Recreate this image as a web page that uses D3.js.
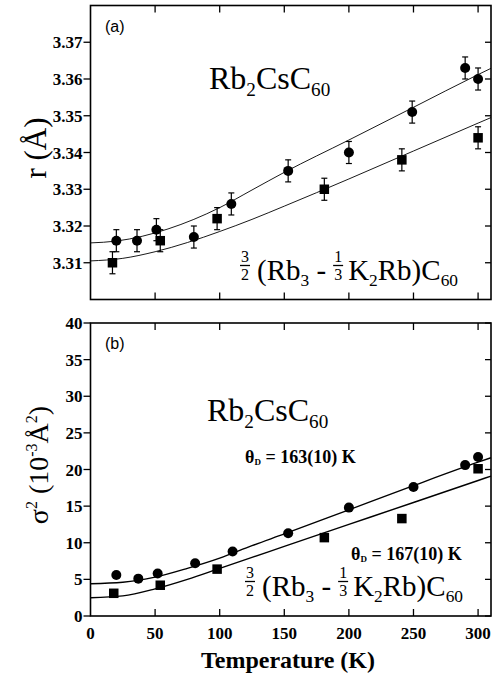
<!DOCTYPE html>
<html>
<head>
<meta charset="utf-8">
<script src="https://cdn.jsdelivr.net/npm/d3@7/dist/d3.min.js"></script>
<style>
  html, body { margin: 0; padding: 0; background: #fff; }
  svg { display: block; }
</style>
</head>
<body>
<svg id="chart" width="500" height="677"></svg>
<script>
// ---- data: panel (a), nearest-neighbour distance r (Å) ----
const tempRbCs = [20, 36, 51, 80, 109, 153, 200, 249, 290, 300];
const rRbCs    = [3.316, 3.316, 3.319, 3.317, 3.326, 3.335, 3.340, 3.351, 3.363, 3.360];
const rErrRbCs = [0.003, 0.003, 0.003, 0.003, 0.003, 0.003, 0.003, 0.003, 0.003, 0.003];
const tempMix  = [17, 54, 98, 181, 241, 300];
const rMix     = [3.310, 3.316, 3.322, 3.330, 3.338, 3.344];
const rErrMix  = [0.003, 0.003, 0.003, 0.003, 0.003, 0.003];

// fitted curves for panel (a)
const fitTempA   = [0, 20, 40, 60, 80, 100, 125, 150, 200, 250, 300, 310];
const fitRRbCs   = [3.3154, 3.3159, 3.3172, 3.3192, 3.3218, 3.3250, 3.3298, 3.3346, 3.3434, 3.3523, 3.3612, 3.3629];
const fitTempA2  = [0, 25, 50, 75, 100, 125, 150, 200, 250, 300, 310];
const fitRMix    = [3.3105, 3.3112, 3.3130, 3.3155, 3.3185, 3.3218, 3.3254, 3.3328, 3.3404, 3.3480, 3.3495];

// ---- data: panel (b), mean-square displacement sigma^2 (10^-3 Å^2) ----
const sigTempRbCs = [20, 37, 52, 81, 110, 153, 200, 250, 290, 300];
const sigRbCs     = [5.6, 5.1, 5.8, 7.2, 8.8, 11.3, 14.8, 17.6, 20.6, 21.7];
const sigTempMix  = [18, 54, 98, 181, 241, 300];
const sigMix      = [3.1, 4.2, 6.4, 10.7, 13.3, 20.1];

// Debye-model fits for panel (b)
const fitTempB    = [0, 25, 50, 75, 100, 125, 150, 200, 250, 300, 310];
const fitSigRbCs  = [4.4, 4.6, 5.3, 6.5, 7.9, 9.6, 11.2, 14.5, 17.8, 21.0, 21.6];
const fitSigMix   = [2.5, 2.75, 3.7, 5.0, 6.5, 8.0, 9.5, 12.5, 15.5, 18.5, 19.1];

// ---- tick labels ----
const xTicks  = [0, 50, 100, 150, 200, 250, 300];
const rTicks  = [3.31, 3.32, 3.33, 3.34, 3.35, 3.36, 3.37];
const sTicks  = [0, 5, 10, 15, 20, 25, 30, 35, 40];

const SERIF = "'Liberation Serif', 'Times New Roman', serif";
const SANS  = "'Liberation Sans', Arial, sans-serif";

const svg = d3.select("#chart");

const left = 90.5, right = 491;
const x = d3.scaleLinear().domain([0, 310]).range([left, right]);

const panelA = { top: 5.5, bottom: 299.5 };
const panelB = { top: 323, bottom: 616 };

const yA = d3.scaleLinear().domain([3.30, 3.38]).range([panelA.bottom, panelA.top]);
const yB = d3.scaleLinear().domain([0, 40]).range([panelB.bottom, panelB.top]);

function frame(p) {
  svg.append("rect")
    .attr("x", left).attr("y", p.top)
    .attr("width", right - left).attr("height", p.bottom - p.top)
    .attr("fill", "none").attr("stroke", "#000").attr("stroke-width", 1.6);
}

function ticks(p, y, yTickVals, fmt, showX) {
  const g = svg.append("g").attr("stroke", "#000").attr("stroke-width", 1.3);
  // x ticks, inside on top and bottom edges
  xTicks.filter(t => t > 0).forEach(t => {
    g.append("line").attr("x1", x(t)).attr("x2", x(t)).attr("y1", p.top).attr("y2", p.top + 7);
    g.append("line").attr("x1", x(t)).attr("x2", x(t)).attr("y1", p.bottom).attr("y2", p.bottom - 7);
  });
  // y ticks, outside on the left, inside on the right
  yTickVals.forEach(t => {
    g.append("line").attr("x1", left - 7).attr("x2", left).attr("y1", y(t)).attr("y2", y(t));
    g.append("line").attr("x1", right).attr("x2", right - 6).attr("y1", y(t)).attr("y2", y(t));
  });
  svg.append("g").selectAll("text").data(yTickVals).join("text")
    .attr("x", left - 8).attr("y", d => y(d) + 6)
    .attr("text-anchor", "end")
    .attr("font-family", SERIF).attr("font-weight", "bold").attr("font-size", 17)
    .text(fmt);
  if (showX) {
    svg.append("g").selectAll("text").data(xTicks).join("text")
      .attr("x", d => x(d)).attr("y", p.bottom + 23)
      .attr("text-anchor", "middle")
      .attr("font-family", SERIF).attr("font-weight", "bold").attr("font-size", 17)
      .text(d => d);
  }
}

function curve(tArr, vArr, y, width) {
  const line = d3.line().x(d => x(d[0])).y(d => y(d[1])).curve(d3.curveMonotoneX);
  svg.append("path")
    .datum(d3.zip(tArr, vArr))
    .attr("d", line)
    .attr("fill", "none").attr("stroke", "#000").attr("stroke-width", width);
}

function circles(tArr, vArr, y, r) {
  svg.append("g").selectAll("circle").data(d3.zip(tArr, vArr)).join("circle")
    .attr("cx", d => x(d[0])).attr("cy", d => y(d[1])).attr("r", r).attr("fill", "#000");
}

function squares(tArr, vArr, y, s) {
  svg.append("g").selectAll("rect").data(d3.zip(tArr, vArr)).join("rect")
    .attr("x", d => x(d[0]) - s / 2).attr("y", d => y(d[1]) - s / 2)
    .attr("width", s).attr("height", s).attr("fill", "#000");
}

function errorBars(tArr, vArr, eArr, y) {
  const g = svg.append("g").attr("stroke", "#000").attr("stroke-width", 1.2);
  tArr.forEach((t, i) => {
    const cx = x(t), y1 = y(vArr[i] - eArr[i]), y2 = y(vArr[i] + eArr[i]);
    g.append("line").attr("x1", cx).attr("x2", cx).attr("y1", y1).attr("y2", y2);
    g.append("line").attr("x1", cx - 3).attr("x2", cx + 3).attr("y1", y1).attr("y2", y1);
    g.append("line").attr("x1", cx - 3).attr("x2", cx + 3).attr("y1", y2).attr("y2", y2);
  });
}

// chemical formula with subscripts: parts = [[text, isSub, subSize], ...]
function chem(xPos, yPos, size, parts, opts = {}) {
  const t = svg.append("text")
    .attr("x", xPos).attr("y", yPos)
    .attr("font-family", SERIF).attr("font-size", size)
    .attr("font-weight", opts.bold ? "bold" : "normal");
  let shifted = false;
  const sub = opts.subShift || size * 0.22;
  parts.forEach(([s, isSub, subSize]) => {
    const ts = t.append("tspan").text(s);
    if (isSub && !shifted) { ts.attr("dy", sub); shifted = true; }
    else if (!isSub && shifted) { ts.attr("dy", -sub); shifted = false; }
    if (isSub) ts.attr("font-size", subSize || size * 0.6);
  });
  return t;
}

// stacked fraction: numerator over denominator with a bar between
function fraction(cx, base, num, den, size) {
  const g = svg.append("g").attr("font-family", SERIF).attr("font-size", size)
    .attr("text-anchor", "middle");
  g.append("text").attr("x", cx).attr("y", base - 18.5).text(num);
  g.append("text").attr("x", cx).attr("y", base).text(den);
  svg.append("line").attr("x1", cx - 5).attr("x2", cx + 5)
    .attr("y1", base - 14.5).attr("y2", base - 14.5)
    .attr("stroke", "#000").attr("stroke-width", 1.3);
}

// 3/2 (Rb3 - 1/3 K2Rb)C60
function mixFormula(x0, base, size) {
  fraction(x0, base, "3", "2", 16);
  const t1 = chem(x0 + 12, base, size, [["(Rb"], ["3", true], ["\u00a0-"]]);
  const w1 = t1.node().getComputedTextLength();
  const fx = x0 + 12 + w1 + 12;
  fraction(fx, base, "1", "3", 16);
  chem(fx + 10, base, size, [["K"], ["2", true], ["Rb)C"], ["60", true]]);
}

// ---- panel (a) ----
frame(panelA);
ticks(panelA, yA, rTicks, d => d.toFixed(2), false);
curve(fitTempA, fitRRbCs, yA, 0.9);
curve(fitTempA2, fitRMix, yA, 0.9);
errorBars(tempRbCs, rRbCs, rErrRbCs, yA);
errorBars(tempMix, rMix, rErrMix, yA);
circles(tempRbCs, rRbCs, yA, 5);
squares(tempMix, rMix, yA, 9.5);

svg.append("text").attr("x", 105).attr("y", 32)
  .attr("font-family", SANS).attr("font-size", 16).text("(a)");
chem(209, 89, 32, [["Rb"], ["2", true], ["CsC"], ["60", true]]);
mixFormula(245, 280, 29);

// ---- panel (b) ----
frame(panelB);
ticks(panelB, yB, sTicks, d => d, true);
curve(fitTempB, fitSigRbCs, yB, 1.4);
curve(fitTempB, fitSigMix, yB, 1.4);
circles(sigTempRbCs, sigRbCs, yB, 5);
squares(sigTempMix, sigMix, yB, 9.5);

svg.append("text").attr("x", 105).attr("y", 349)
  .attr("font-family", SANS).attr("font-size", 16).text("(b)");
chem(207, 421, 32, [["Rb"], ["2", true], ["CsC"], ["60", true]]);
chem(245, 463, 18, [["θ"], ["D", true, 9], [" = 163(10) K"]], { bold: true, subShift: 2 });
chem(351, 560, 18, [["θ"], ["D", true, 9], [" = 167(10) K"]], { bold: true, subShift: 2 });
mixFormula(250, 596, 29);

// ---- axis titles ----
svg.append("text")
  .attr("transform", "translate(46,148) rotate(-90)")
  .attr("text-anchor", "middle")
  .attr("font-family", SERIF).attr("font-size", 31)
  .text("r (Å)");

const sl = svg.append("text")
  .attr("transform", "translate(48,465) rotate(-90)")
  .attr("text-anchor", "middle")
  .attr("font-family", SERIF).attr("font-size", 28);
sl.append("tspan").text("σ");
sl.append("tspan").attr("dy", -11).attr("font-size", 16).text("2");
sl.append("tspan").attr("dy", 11).text(" (10");
sl.append("tspan").attr("dy", -11).attr("font-size", 16).text("-3");
sl.append("tspan").attr("dy", 11).text("Å");
sl.append("tspan").attr("dy", -11).attr("font-size", 16).text("2");
sl.append("tspan").attr("dy", 11).text(")");

svg.append("text")
  .attr("x", 288).attr("y", 668)
  .attr("text-anchor", "middle")
  .attr("font-family", SERIF).attr("font-weight", "bold").attr("font-size", 24)
  .text("Temperature (K)");
</script>
</body>
</html>
